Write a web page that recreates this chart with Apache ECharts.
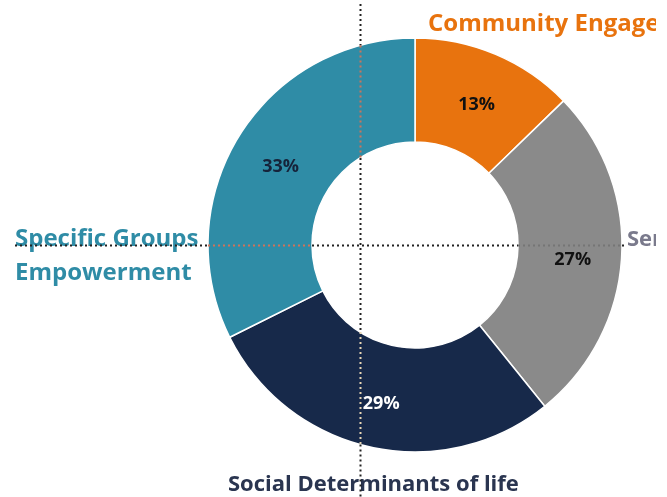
<!DOCTYPE html>
<html>
<head>
<meta charset="utf-8">
<script src="https://cdn.jsdelivr.net/npm/echarts@6/dist/echarts.min.js"></script>
<style>
  html, body { margin: 0; padding: 0; background: #ffffff; }
  #chart { width: 667px; height: 497px; }
</style>
</head>
<body>
<div id="chart"></div>
<script>
// Share of activities by area
var categories = ['Community Engagement', 'Service Delivery', 'Social Determinants of life', 'Specific Groups Empowerment'];
var shares = [13, 27, 29, 33];
var sliceColors = ['#e8730e', '#8a8a8a', '#17294a', '#2f8ca6'];
var valueLabelColors = ['#111111', '#111111', '#ffffff', '#16233a'];
var nameColors = ['#e8730e', '#7a7a8c', '#2a3550', '#2f8ca6'];

var chart = echarts.init(document.getElementById('chart'), null, { renderer: 'canvas' });

var cx = 415, cy = 245, rIn = 103, rOut = 207;
var font = '"Open Sans", Lato, sans-serif';

// colour of a dotted guide over a given backdrop (inverted backdrop)
function inv(hex) {
  var n = parseInt(hex.slice(1), 16);
  var r = 255 - ((n >> 16) & 255), g = 255 - ((n >> 8) & 255), b = 255 - (n & 255);
  return 'rgb(' + r + ',' + g + ',' + b + ')';
}
var guideStyle = function (c) {
  return { stroke: c, lineWidth: 2, lineDash: [2, 3] };
};

// vertical guide at x = 360, split where it crosses the ring
var gx = 360;
var dxv = gx - cx;
var yo = Math.sqrt(rOut * rOut - dxv * dxv), yi = Math.sqrt(rIn * rIn - dxv * dxv);
var vSegs = [
  [4, cy - yo, '#222222'],
  [cy - yo, cy - yi, inv(sliceColors[3])],
  [cy - yi, cy + yi, '#222222'],
  [cy + yi, cy + yo, inv(sliceColors[2])],
  [cy + yo, 497, '#222222']
];
// horizontal guide at y = 245
var gy = 245;
var hSegs = [
  [15, cx - rOut, '#222222'],
  [cx - rOut, cx - rIn, inv(sliceColors[3])],
  [cx - rIn, cx + rIn, '#222222'],
  [cx + rIn, cx + rOut, inv(sliceColors[1])],
  [cx + rOut, 626, '#222222']
];
var guides = [];
vSegs.forEach(function (s) {
  guides.push({ type: 'line', z: 20, silent: true,
    shape: { x1: gx + 0.5, y1: s[0], x2: gx + 0.5, y2: s[1] }, style: guideStyle(s[2]) });
});
hSegs.forEach(function (s) {
  guides.push({ type: 'line', z: 20, silent: true,
    shape: { x1: s[0], y1: gy + 0.5, x2: s[1], y2: gy + 0.5 }, style: guideStyle(s[2]) });
});

chart.setOption({
  backgroundColor: '#ffffff',
  animation: false,
  series: [{
    type: 'pie',
    center: [cx, cy],
    radius: [rIn, rOut],
    startAngle: 90,
    clockwise: true,
    avoidLabelOverlap: false,
    itemStyle: { borderColor: '#ffffff', borderWidth: 1.5 },
    label: {
      show: true,
      position: 'inside',
      formatter: '{c}%',
      fontFamily: font,
      fontWeight: 'bold',
      fontSize: 18,
      offset: [0, 5]
    },
    labelLine: { show: false },
    emphasis: { disabled: true },
    data: categories.map(function (name, i) {
      return {
        name: name,
        value: shares[i],
        itemStyle: { color: sliceColors[i] },
        label: { color: valueLabelColors[i] }
      };
    })
  }],
  graphic: [
    // category names around the ring
    { type: 'text', left: 428, top: 12, z: 10,
      style: { text: categories[0], fill: nameColors[0], font: 'bold 24px ' + font } },
    { type: 'text', left: 627, top: 229, z: 10,
      style: { text: categories[1], fill: nameColors[1], font: 'bold 22px ' + font } },
    { type: 'text', left: 228, top: 474, z: 10,
      style: { text: categories[2], fill: nameColors[2], font: 'bold 22px ' + font } },
    { type: 'text', left: 15, top: 222, z: 10,
      style: { text: 'Specific Groups\nEmpowerment', fill: nameColors[3], font: 'bold 24px ' + font, lineHeight: 34 } },
    // blank margin on the right edge of the canvas
    { type: 'rect', z: 30, silent: true, shape: { x: 656, y: 0, width: 11, height: 497 },
      style: { fill: '#ffffff' } }
  ].concat(guides)
});
</script>
</body>
</html>
